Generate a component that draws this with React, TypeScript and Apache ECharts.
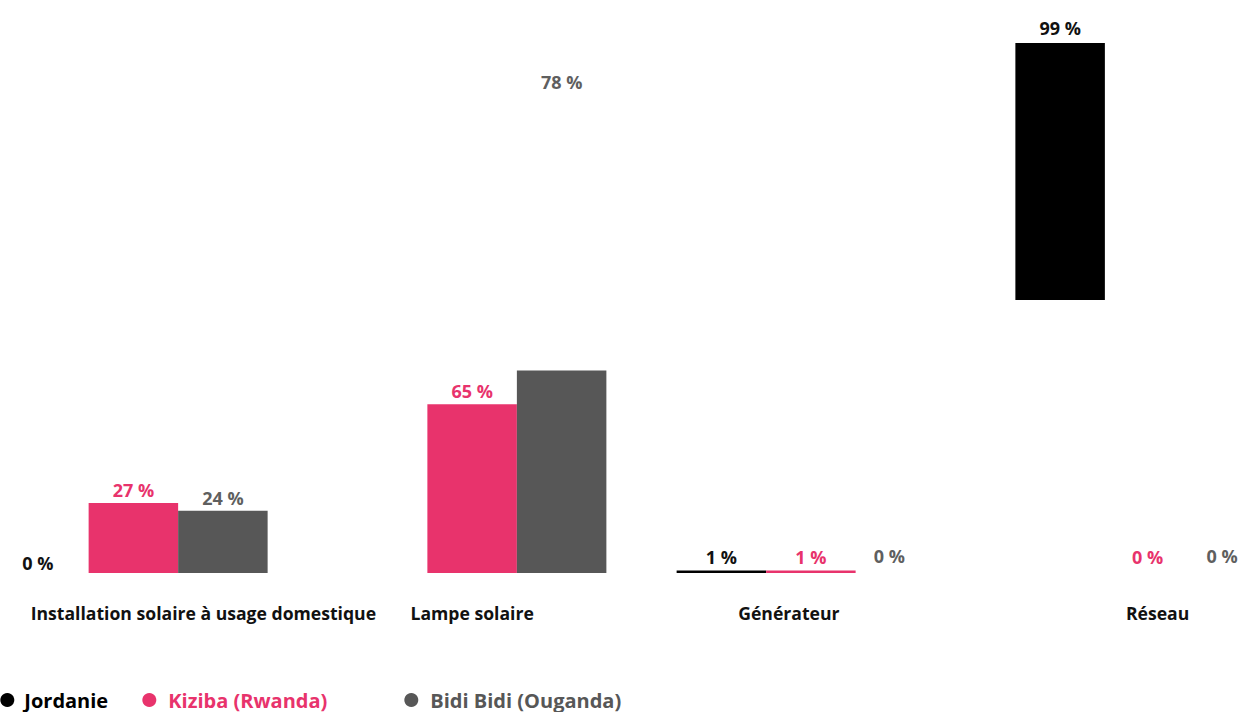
import React, { useEffect, useRef } from "react";
import * as echarts from "echarts";

const categories = [
  "Installation solaire à usage domestique",
  "Lampe solaire",
  "Générateur",
  "Réseau",
];
const seriesNames = ["Jordanie", "Kiziba (Rwanda)", "Bidi Bidi (Ouganda)"];
const jordanie: (number | null)[] = [0, null, 1, 99];
const kiziba = [27, 65, 1, 0];
const bidiBidi = [24, 78, 0, 0];
// vertical displacement of the Jordanie "Réseau" bar as it appears in the source picture (in %)
const jordanieShift = [0, 0, 0, 105.2];

const COLORS = ["#000000", "#E8336C", "#575757"];
const FONT = "'Open Sans', 'DejaVu Sans', sans-serif";

// the plot area of the source is wider than the picture: it starts left of it and ends right of it
const OFFSET_X = 36.3;
const CHART_W = 1354.6;

// label nudges (pixels) per series / category index, as placed in the source
const labelNudges: Record<number, Record<number, number[]>> = {
  0: { 0: [-6, 3], 3: [0, -2] },
  1: { 3: [-2, -3] },
  2: { 1: [0, -276], 2: [-11, -4], 3: [-17, -4] },
};

function withNudges(values: (number | null)[], s: number) {
  return values.map((v, i) => {
    const n = labelNudges[s]?.[i];
    return n && v !== null ? { value: v, label: { offset: n } } : v;
  });
}

export default function App() {
  const ref = useRef<HTMLDivElement>(null);
  useEffect(() => {
    if (!ref.current) return;
    const chart = echarts.init(ref.current, undefined, { renderer: "svg" });
    const labelBase = {
      show: true,
      position: "top" as const,
      distance: 4,
      fontFamily: FONT,
      fontWeight: "bold" as const,
      fontSize: 18,
      formatter: (p: any) => `${p.value} %`,
    };
    const catPads = [
      [0, 0, 0, 140],
      [0, 0, 0, 0],
      [0, 44, 0, 0],
      [0, 0, 0, 16],
    ];
    const legendText = (c: string) => ({
      color: c,
      fontFamily: FONT,
      fontWeight: "bold",
      fontSize: 20,
    });
    chart.setOption({
      animation: false,
      grid: { left: 0, right: 0, top: 2, bottom: 139, containLabel: false },
      xAxis: {
        type: "category",
        data: categories.map((c, i) => ({ value: c, textStyle: { padding: catPads[i] } })),
        axisLine: { show: false },
        axisTick: { show: false },
        axisLabel: {
          interval: 0,
          margin: 31,
          fontFamily: FONT,
          fontWeight: "bold",
          fontSize: 17.6,
          color: "#111",
        },
      },
      yAxis: {
        type: "value",
        min: 0,
        max: 220,
        show: false,
        splitLine: { show: false },
      },
      legend: [
        {
          data: [seriesNames[0]],
          left: OFFSET_X - 5,
          top: 685,
          icon: "circle",
          itemWidth: 24,
          itemHeight: 14,
          textStyle: legendText(COLORS[0]),
        },
        {
          data: [seriesNames[1]],
          left: OFFSET_X + 137,
          top: 685,
          icon: "circle",
          itemWidth: 28,
          itemHeight: 14,
          textStyle: legendText(COLORS[1]),
        },
        {
          data: [seriesNames[2]],
          left: OFFSET_X + 399,
          top: 685,
          icon: "circle",
          itemWidth: 28,
          itemHeight: 14,
          textStyle: legendText(COLORS[2]),
        },
      ],
      series: [
        {
          name: "shift",
          type: "bar",
          stack: "j",
          barWidth: 89.5,
          barGap: "0%",
          data: jordanieShift,
          itemStyle: { color: "rgba(0,0,0,0)" },
          label: { show: false },
          silent: true,
        },
        {
          name: seriesNames[0],
          type: "bar",
          stack: "j",
          barWidth: 89.5,
          barGap: "0%",
          data: withNudges(jordanie, 0),
          itemStyle: { color: COLORS[0] },
          label: { ...labelBase, color: "#111" },
        },
        {
          name: seriesNames[1],
          type: "bar",
          barWidth: 89.5,
          barGap: "0%",
          data: withNudges(kiziba, 1),
          itemStyle: { color: COLORS[1] },
          label: { ...labelBase, color: COLORS[1] },
        },
        {
          name: seriesNames[2],
          type: "bar",
          barWidth: 89.5,
          barGap: "0%",
          data: withNudges(bidiBidi, 2),
          itemStyle: { color: COLORS[2] },
          label: { ...labelBase, color: "#5f5f5f" },
        },
      ],
    });
    return () => chart.dispose();
  }, []);
  return (
    <div
      ref={ref}
      style={{
        position: "fixed",
        left: -OFFSET_X,
        top: 0,
        width: CHART_W,
        height: 712,
        background: "#fff",
      }}
    />
  );
}
